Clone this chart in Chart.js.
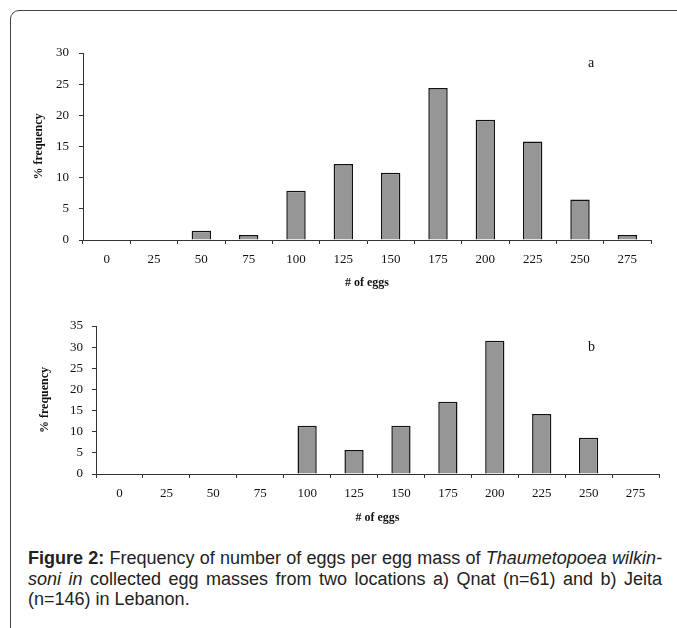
<!DOCTYPE html>
<html>
<head>
<meta charset="utf-8">
<script src="https://cdn.jsdelivr.net/npm/chart.js@4"></script>
<style>
  html, body { margin: 0; padding: 0; background: #fff; }
  body { width: 677px; height: 628px; position: relative; overflow: hidden; }
  .card {
    position: absolute; left: 10px; top: 10px; width: 720px; height: 700px;
    border: 1.5px solid #444; border-radius: 9px;
  }
  canvas { position: absolute; left: 0; }
  #chartA { top: 0; }
  #chartB { top: 300px; }
  .panel {
    position: absolute; font-family: "Liberation Serif", "Times New Roman", serif;
    font-size: 14px; color: #111;
  }
  .caption {
    position: absolute; left: 28px; top: 548px; width: 634px;
    font-family: "Liberation Sans", Arial, sans-serif; font-size: 18px;
    line-height: 20.5px; color: #222;
  }
  .caption div { text-align: justify; text-align-last: justify; white-space: nowrap; }
  .caption div.last { text-align-last: left; }
</style>
</head>
<body>
<div class="card"></div>
<canvas id="chartA" width="677" height="300"></canvas>
<canvas id="chartB" width="677" height="230"></canvas>
<span class="panel" style="left:588px; top:55px;">a</span>
<span class="panel" style="left:588px; top:339px;">b</span>
<div class="caption">
  <div><b>Figure 2:</b> Frequency of number of eggs per egg mass of <i>Thaumetopoea wilkin-</i></div>
  <div><i>soni in</i> collected egg masses from two locations a) Qnat (n=61) and b) Jeita</div>
  <div class="last">(n=146) in Lebanon.</div>
</div>
<script>
// egg count classes
const eggBins = ['0', '25', '50', '75', '100', '125', '150', '175', '200', '225', '250', '275'];

// % frequency, a) Qnat
const qnatFreq = [0, 0, 1.5, 0.8, 7.9, 12.2, 10.8, 24.4, 19.3, 15.8, 6.5, 0.8];

// % frequency, b) Jeita
const jeitaFreq = [0, 0, 0, 0, 11.4, 5.7, 11.4, 17.1, 31.5, 14.2, 8.6, 0];

const yMaxA = 30;
const yMaxB = 35;
const yStep = 5;

const serif = '"Liberation Serif", "Times New Roman", serif';
const axisColor = '#333';

function makeChart(id, values, yMax, box) {
  const ctx = document.getElementById(id).getContext('2d');
  return new Chart(ctx, {
    type: 'bar',
    data: {
      labels: eggBins,
      datasets: [{
        data: values,
        backgroundColor: '#969696',
        borderColor: '#111',
        borderWidth: 1.5,
        barPercentage: 0.41,
        categoryPercentage: 1.0
      }]
    },
    options: {
      responsive: false,
      animation: false,
      events: [],
      layout: {
        padding: { left: 0, top: box.top, right: box.right, bottom: 0 }
      },
      plugins: {
        legend: { display: false },
        tooltip: { enabled: false }
      },
      scales: {
        x: {
          grid: {
            offset: true,
            drawOnChartArea: false,
            drawTicks: true,
            tickLength: 4,
            color: axisColor
          },
          border: { display: true, color: axisColor, width: 1 },
          ticks: {
            color: '#111',
            padding: 8,
            maxRotation: 0,
            font: { family: serif, size: 13 }
          },
          title: {
            display: true,
            text: '# of eggs',
            color: '#111',
            padding: { top: 0, bottom: box.titleBottom },
            font: { family: serif, size: 12, weight: 'bold' }
          },
          afterFit: (scale) => { scale.height = box.xHeight; }
        },
        y: {
          min: 0,
          max: yMax,
          grid: {
            drawOnChartArea: false,
            drawTicks: true,
            tickLength: 4,
            color: axisColor
          },
          border: { display: true, color: axisColor, width: 1 },
          ticks: {
            stepSize: yStep,
            color: '#111',
            padding: box.yPad,
            font: { family: serif, size: 13 }
          },
          title: {
            display: true,
            text: '% frequency',
            color: '#111',
            padding: { top: box.yTitle, bottom: 0 },
            font: { family: serif, size: 12, weight: 'bold' }
          },
          afterFit: (scale) => { scale.width = box.yWidth; }
        }
      }
    }
  });
}

makeChart('chartA', qnatFreq, yMaxA, {
  top: 53, right: 26, xHeight: 60, titleBottom: 10, yWidth: 83, yPad: 10, yTitle: 32
});
makeChart('chartB', jeitaFreq, yMaxB, {
  top: 26, right: 18, xHeight: 56, titleBottom: 5, yWidth: 96, yPad: 9, yTitle: 38
});
</script>
</body>
</html>
